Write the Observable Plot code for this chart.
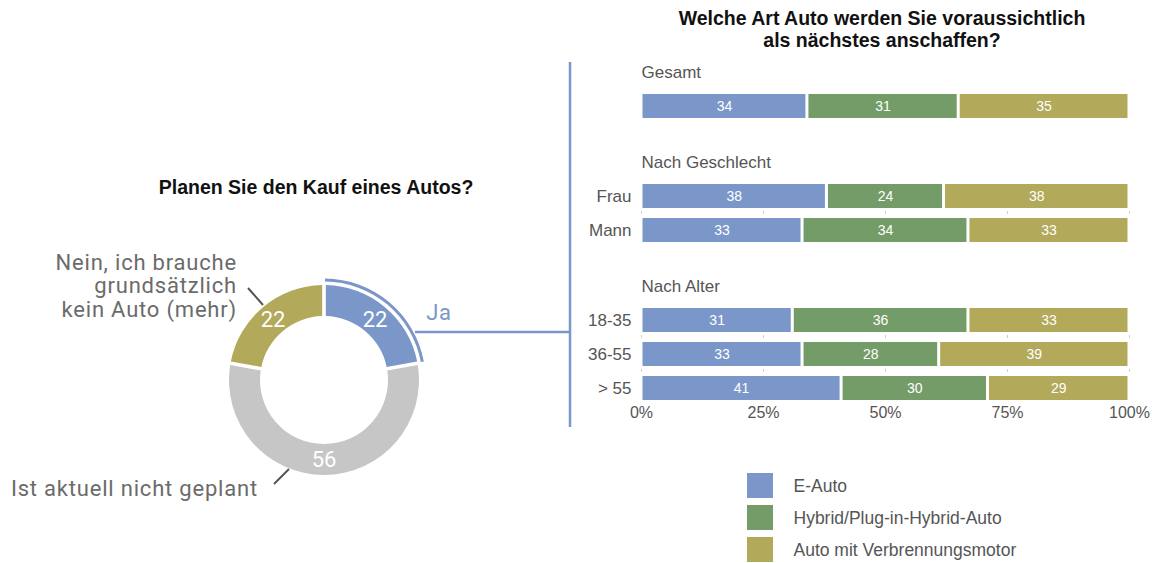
<!DOCTYPE html>
<html>
<head>
<meta charset="utf-8">
<script src="https://cdn.jsdelivr.net/npm/d3@7"></script>
<script src="https://cdn.jsdelivr.net/npm/@observablehq/plot@0.6"></script>
<style>
  html, body { margin: 0; padding: 0; background: #fff; }
  #c { position: relative; width: 1152px; height: 563px; overflow: hidden; font-family: "Liberation Sans", Arial, sans-serif; }
  #c > div { position: absolute; }
  .ttl { font-weight: bold; color: #111; text-align: center; white-space: nowrap; }
</style>
</head>
<body>
<div id="c"></div>
<script>
// ---------- data ----------
const donutLabels = ["Ja", "Ist aktuell nicht geplant", "Nein, ich brauche grundsätzlich kein Auto (mehr)"];
const donutValues = [22, 56, 22];
const donutColors = ["#7b97c9", "#c6c6c6", "#b2a95a"];

const groups = ["Gesamt", "Frau", "Mann", "18-35", "36-55", "> 55"];
const types = ["E-Auto", "Hybrid/Plug-in-Hybrid-Auto", "Auto mit Verbrennungsmotor"];
const typeColors = ["#7b97c9", "#739c68", "#b2a95a"];
const eAuto = [34, 38, 33, 31, 33, 41];
const hybrid = [31, 24, 34, 36, 28, 30];
const verbrenner = [35, 38, 33, 33, 39, 29];

const sectionTitles = ["Gesamt", "Nach Geschlecht", "Nach Alter"];
const sectionRows = [["Gesamt"], ["Frau", "Mann"], ["18-35", "36-55", "> 55"]];
const xTicks = [0, 25, 50, 75, 100];

const titleLeft = "Planen Sie den Kauf eines Autos?";
const titleRight = ["Welche Art Auto werden Sie voraussichtlich", "als nächstes anschaffen?"];

// ---------- tables ----------
const barData = [];
groups.forEach((g, i) => {
  [eAuto, hybrid, verbrenner].forEach((arr, j) => barData.push({group: g, type: types[j], value: arr[i]}));
});
const donutData = donutLabels.map((l, i) => ({label: l, value: donutValues[i], color: donutColors[i]}));

const root = document.getElementById("c");
function place(node, left, top) {
  const d = document.createElement("div");
  d.style.left = left + "px"; d.style.top = top + "px";
  d.appendChild(node); root.appendChild(d); return d;
}

const baseStyle = {fontFamily: "Liberation Sans, Arial, sans-serif", fontSize: "17px", color: "#555", background: "transparent", overflow: "visible"};

// ---------- donut ----------
const blue = donutColors[0];
function donutMark() {
  const cx = 324, cy = 380, r0 = 64, r1 = 95;
  const root = d3.create("svg:g");
  const g = root.append("g").attr("transform", `translate(${cx},${cy})`);
  const arcs = d3.pie().sort(null).value(d => d.value).padAngle(0.032)(donutData);
  const arc = d3.arc().innerRadius(r0).outerRadius(r1);
  g.selectAll("path.slice").data(arcs).join("path").attr("class", "slice")
    .attr("d", arc).attr("fill", d => d.data.color);
  const ja = arcs[0];
  g.append("path")
    .attr("d", d3.arc().innerRadius(98.5).outerRadius(101.5)({startAngle: ja.startAngle + 0.01, endAngle: ja.endAngle - 0.005}))
    .attr("fill", blue);
  g.selectAll("text.val").data(arcs).join("text").attr("class", "val")
    .attr("transform", d => `translate(${arc.centroid(d)})`)
    .attr("text-anchor", "middle").attr("dy", "0.36em")
    .attr("fill", "white").attr("font-family", "Roboto, sans-serif").attr("font-size", 22)
    .text(d => d.data.value);
  // annotations
  const lab = root.append("g").attr("font-family", "Roboto, sans-serif").attr("font-size", 22).attr("letter-spacing", "0.8px");
  lab.append("text").attr("x", 439).attr("y", 312).attr("dy", "0.36em").attr("fill", blue).text(donutLabels[0]);
  lab.append("text").attr("x", 258).attr("y", 488).attr("dy", "0.36em").attr("text-anchor", "end").attr("fill", "#6b6b6b").text(donutLabels[1]);
  const nein = lab.append("text").attr("text-anchor", "end").attr("fill", "#6b6b6b");
  ["Nein, ich brauche", "grundsätzlich", "kein Auto (mehr)"].forEach((t, i) =>
    nein.append("tspan").attr("x", 237).attr("y", 262 + i * 23.5).attr("dy", "0.36em").text(t));
  root.append("line").attr("x1", 248).attr("y1", 288).attr("x2", 263).attr("y2", 305).attr("stroke", "#555").attr("stroke-width", 2);
  root.append("line").attr("x1", 274).attr("y1", 484).attr("x2", 289).attr("y2", 469).attr("stroke", "#555").attr("stroke-width", 2);
  // connector to bar chart
  root.append("line").attr("x1", 415).attr("y1", 332).attr("x2", 570).attr("y2", 332).attr("stroke", blue).attr("stroke-width", 2.5);
  root.append("line").attr("x1", 570).attr("y1", 62).attr("x2", 570).attr("y2", 427).attr("stroke", blue).attr("stroke-width", 2.5);
  return root.node();
}
place(Plot.plot({width: 580, height: 563, margin: 0, style: baseStyle, marks: [donutMark]}), 0, 0);

// ---------- bar sections ----------
const colorScale = {domain: types, range: typeColors};
const tops = [50, 140, 264];
sectionRows.forEach((rows, si) => {
  const last = si === sectionRows.length - 1;
  const step = 34, pad = 10 / 34;
  const rangeLen = step * (rows.length - pad + 2 * pad);
  const marginTop = 34, marginBottom = last ? 22 : 6;
  const data = barData.filter(d => rows.includes(d.group));
  const gapRows = rows.slice(0, -1);
  const tickData = gapRows.flatMap(r => xTicks.map(t => ({row: r, x: t})));
  const marks = [
    Plot.tickX(tickData, {x: "x", y: "row", stroke: "#cfcfcf", insetTop: 27, insetBottom: -6}),
    Plot.barX(data, Plot.stackX({x: "value", y: "group", fill: "type", order: types, insetLeft: 1.5, insetRight: 1.5})),
    Plot.text(data, Plot.stackX({x: "value", y: "group", z: "type", order: types, text: "value", fill: "white", fontSize: 14})),
    Plot.text([sectionTitles[si]], {frameAnchor: "top-left", lineAnchor: "middle", dy: -12, textAnchor: "start", fill: "#555", fontSize: 17, letterSpacing: "-0.3px"})
  ];
  if (si > 0) marks.push(Plot.axisY({tickSize: 0, tickPadding: 10, label: null, fontSize: 17, color: "#555"}));
  if (last) marks.push(Plot.axisX({ticks: xTicks, tickSize: 0, tickFormat: d => d + "%", label: null, dy: -13, fontSize: 16, color: "#555"}));
  const p = Plot.plot({
    width: 572, height: marginTop + rangeLen + marginBottom,
    marginLeft: 61, marginRight: 23, marginTop, marginBottom,
    style: baseStyle,
    x: {domain: [0, 100], axis: null, label: null},
    y: {domain: rows, padding: pad, axis: null, label: null},
    color: colorScale,
    marks
  });
  place(p, 580, tops[si]);
});

// ---------- legend ----------
const legend = Plot.plot({
  width: 360, height: 103, margin: 0, style: baseStyle,
  x: {domain: ["sw"], range: [0, 26], padding: 0, axis: null},
  y: {domain: types, range: [13, 102], paddingInner: 7 / 32, paddingOuter: 0, axis: null},
  color: colorScale,
  marks: [
    Plot.cell(types, {x: () => "sw", y: d => d, fill: d => d, inset: 0}),
    Plot.text(types, {x: () => "sw", y: d => d, text: d => d, dx: 33, textAnchor: "start", fill: "#555", fontSize: 17.5})
  ]
});
place(legend, 747, 460);

// ---------- titles ----------
const t1 = document.createElement("div");
t1.className = "ttl"; t1.style.cssText = "left:66px;top:175px;width:500px;font-size:19.5px;line-height:24px;";
t1.textContent = titleLeft; root.appendChild(t1);
const t2 = document.createElement("div");
t2.className = "ttl"; t2.style.cssText = "left:582px;top:7px;width:600px;font-size:19.5px;line-height:22px;";
t2.innerHTML = titleRight.join("<br>"); root.appendChild(t2);
</script>
</body>
</html>
